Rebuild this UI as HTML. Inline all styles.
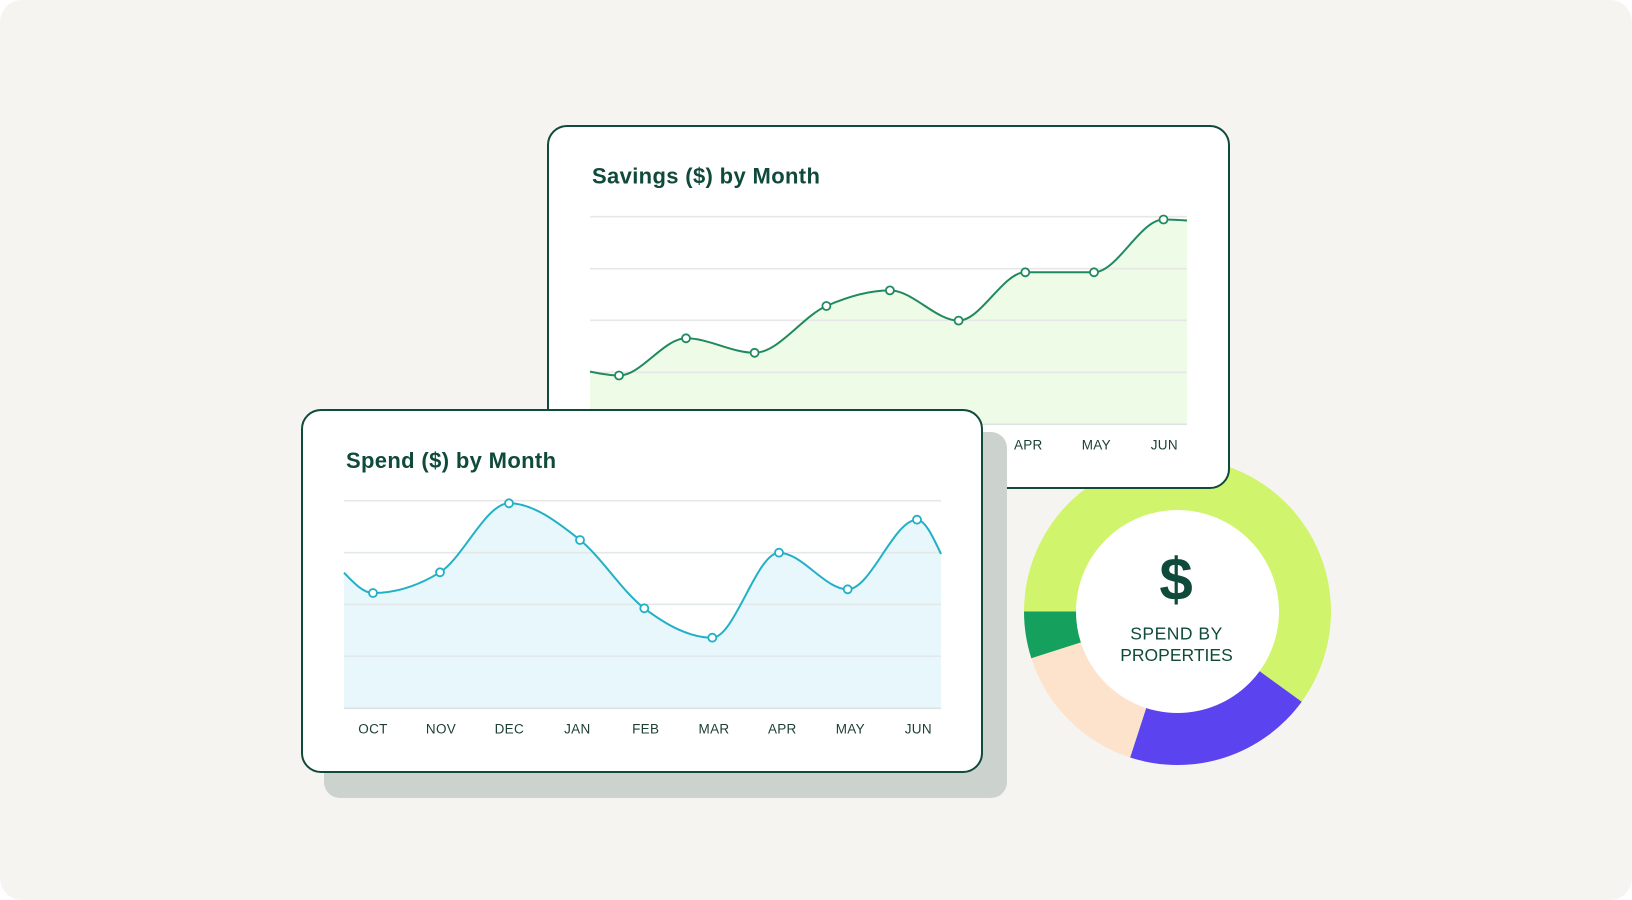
<!DOCTYPE html>
<html>
<head>
<meta charset="utf-8">
<style>
  html,body{margin:0;padding:0;background:#ffffff;}
  body{width:1632px;height:900px;overflow:hidden;}
  svg{display:block;}
  .title{font-family:"Liberation Sans",sans-serif;font-weight:bold;font-size:22px;fill:#0f4a3a;letter-spacing:0.35px;}
  .lbl{font-family:"Liberation Sans",sans-serif;font-size:13.5px;fill:#1d4035;text-anchor:middle;letter-spacing:0.3px;}
  .grid{stroke:#e6e7e6;stroke-width:1.6;}
  .base{stroke:#dde3e1;stroke-width:1.6;}
</style>
</head>
<body>
<svg width="1632" height="900" viewBox="0 0 1632 900" xmlns="http://www.w3.org/2000/svg">
  <!-- background -->
  <rect x="0" y="0" width="1632" height="900" rx="22" ry="22" fill="#f5f4f0"/>

  <!-- donut -->
  <g>
    <path d="M 1024 611.5 A 153.5 153.5 0 1 1 1301.7 701.7 L 1259.2 670.9 A 101 101 0 1 0 1076.5 611.5 Z" fill="#d0f46b"/>
    <path d="M 1301.7 701.7 A 153.5 153.5 0 0 1 1130.1 757.5 L 1146.3 707.6 A 101 101 0 0 0 1259.2 670.9 Z" fill="#5b44ef"/>
    <path d="M 1130.1 757.5 A 153.5 153.5 0 0 1 1031.3 658.2 L 1081.3 642.2 A 101 101 0 0 0 1146.3 707.6 Z" fill="#fde3cb"/>
    <path d="M 1031.3 658.2 A 153.5 153.5 0 0 1 1024 611.5 L 1076.5 611.5 A 101 101 0 0 0 1081.3 642.2 Z" fill="#15a05e"/>
    <circle cx="1177.5" cy="611.5" r="101.5" fill="#ffffff"/>
    <text x="1176" y="600" text-anchor="middle" font-family="Liberation Sans, sans-serif" font-weight="bold" font-size="60" fill="#0f4a3a">$</text>
    <text x="1176.5" y="639.3" text-anchor="middle" font-family="Liberation Sans, sans-serif" font-size="17.5" fill="#0f4a3a" letter-spacing="0.5">SPEND BY</text>
    <text x="1176.5" y="661" text-anchor="middle" font-family="Liberation Sans, sans-serif" font-size="17.5" fill="#0f4a3a">PROPERTIES</text>
  </g>

  <!-- savings card -->
  <rect x="548" y="126" width="681" height="362" rx="19" ry="19" fill="#ffffff" stroke="#0f4a3b" stroke-width="2"/>
  <text class="title" x="592" y="183.5">Savings ($) by Month</text>
  <!-- savings area -->
  <path d="M 590 371.6 C 599.67 373.55 609.33 375.5 619 375.5 C 641.33 375.5 663.67 338.3 686 338.3 C 708.87 338.3 731.73 352.8 754.6 352.8 C 778.53 352.8 802.47 316.43 826.4 306 C 847.57 296.77 868.73 290.4 889.9 290.4 C 912.8 290.4 935.7 320.6 958.6 320.6 C 980.83 320.6 1003.07 272.3 1025.3 272.3 L 1094 272.3 C 1117.17 272.3 1140.33 219.5 1163.5 219.5 C 1171.33 219.5 1179.17 220 1187 220.5 L 1187 424.3 L 590 424.3 Z" fill="#eefbe7"/>
  <line class="grid" x1="590" y1="216.7" x2="1187" y2="216.7"/>
  <line class="grid" x1="590" y1="268.7" x2="1187" y2="268.7"/>
  <line class="grid" x1="590" y1="320.3" x2="1187" y2="320.3"/>
  <line class="grid" x1="590" y1="372.3" x2="1187" y2="372.3"/>
  <line class="base" x1="590" y1="424.3" x2="1187" y2="424.3"/>
  <path d="M 590 371.6 C 599.67 373.55 609.33 375.5 619 375.5 C 641.33 375.5 663.67 338.3 686 338.3 C 708.87 338.3 731.73 352.8 754.6 352.8 C 778.53 352.8 802.47 316.43 826.4 306 C 847.57 296.77 868.73 290.4 889.9 290.4 C 912.8 290.4 935.7 320.6 958.6 320.6 C 980.83 320.6 1003.07 272.3 1025.3 272.3 L 1094 272.3 C 1117.17 272.3 1140.33 219.5 1163.5 219.5 C 1171.33 219.5 1179.17 220 1187 220.5" fill="none" stroke="#208a5e" stroke-width="2"/>
  <g fill="#ffffff" stroke="#208a5e" stroke-width="1.8">
    <circle cx="619" cy="375.5" r="4"/>
    <circle cx="686" cy="338.3" r="4"/>
    <circle cx="754.6" cy="352.8" r="4"/>
    <circle cx="826.4" cy="306" r="4"/>
    <circle cx="889.9" cy="290.4" r="4"/>
    <circle cx="958.6" cy="320.6" r="4"/>
    <circle cx="1025.3" cy="272.3" r="4"/>
    <circle cx="1094" cy="272.3" r="4"/>
    <circle cx="1163.5" cy="219.5" r="4"/>
  </g>
  <text class="lbl" x="619" y="449.3">OCT</text>
  <text class="lbl" x="687" y="449.3">NOV</text>
  <text class="lbl" x="755.3" y="449.3">DEC</text>
  <text class="lbl" x="823.3" y="449.3">JAN</text>
  <text class="lbl" x="891.7" y="449.3">FEB</text>
  <text class="lbl" x="960" y="449.3">MAR</text>
  <text class="lbl" x="1028.3" y="449.3">APR</text>
  <text class="lbl" x="1096.3" y="449.3">MAY</text>
  <text class="lbl" x="1164.3" y="449.3">JUN</text>

  <!-- shadow of spend card -->
  <rect x="324" y="432" width="683" height="366" rx="16" ry="16" fill="#ccd3cf"/>

  <!-- spend card -->
  <rect x="302" y="410" width="680" height="362" rx="19" ry="19" fill="#ffffff" stroke="#0f4a3b" stroke-width="2"/>
  <text class="title" x="346" y="468">Spend ($) by Month</text>
  <path d="M 344 572.7 C 353.67 582.85 363.33 593 373 593 C 395.33 593 417.67 586.1 440 572.3 C 463 558.08 486 503.3 509 503.3 C 532.67 503.3 556.33 520.99 580 540 C 601.43 557.21 622.87 592.1 644.3 608.3 C 666.97 625.44 689.63 637.7 712.3 637.7 C 734.53 637.7 756.77 552.7 779 552.7 C 801.9 552.7 824.8 589.3 847.7 589.3 C 870.8 589.3 893.9 519.7 917 519.7 C 925 519.7 933 536.9 941 554 L 941 708.3 L 344 708.3 Z" fill="#e7f7fb"/>
  <line class="grid" x1="344" y1="500.7" x2="941" y2="500.7"/>
  <line class="grid" x1="344" y1="552.7" x2="941" y2="552.7" style="stroke:#e3e8e9"/>
  <line class="grid" x1="344" y1="604.3" x2="941" y2="604.3" style="stroke:#e3e8e9"/>
  <line class="grid" x1="344" y1="656.3" x2="941" y2="656.3" style="stroke:#e0eaec"/>
  <line class="base" x1="344" y1="708.3" x2="941" y2="708.3"/>
  <path d="M 344 572.7 C 353.67 582.85 363.33 593 373 593 C 395.33 593 417.67 586.1 440 572.3 C 463 558.08 486 503.3 509 503.3 C 532.67 503.3 556.33 520.99 580 540 C 601.43 557.21 622.87 592.1 644.3 608.3 C 666.97 625.44 689.63 637.7 712.3 637.7 C 734.53 637.7 756.77 552.7 779 552.7 C 801.9 552.7 824.8 589.3 847.7 589.3 C 870.8 589.3 893.9 519.7 917 519.7 C 925 519.7 933 536.9 941 554" fill="none" stroke="#22b0c7" stroke-width="2"/>
  <g fill="#ffffff" stroke="#22b0c7" stroke-width="1.8">
    <circle cx="373" cy="593" r="4"/>
    <circle cx="440" cy="572.3" r="4"/>
    <circle cx="509" cy="503.3" r="4"/>
    <circle cx="580" cy="540" r="4"/>
    <circle cx="644.3" cy="608.3" r="4"/>
    <circle cx="712.3" cy="637.7" r="4"/>
    <circle cx="779" cy="552.7" r="4"/>
    <circle cx="847.7" cy="589.3" r="4"/>
    <circle cx="917" cy="519.7" r="4"/>
  </g>
  <text class="lbl" x="373" y="733.3">OCT</text>
  <text class="lbl" x="441" y="733.3">NOV</text>
  <text class="lbl" x="509.3" y="733.3">DEC</text>
  <text class="lbl" x="577.3" y="733.3">JAN</text>
  <text class="lbl" x="645.7" y="733.3">FEB</text>
  <text class="lbl" x="714" y="733.3">MAR</text>
  <text class="lbl" x="782.3" y="733.3">APR</text>
  <text class="lbl" x="850.3" y="733.3">MAY</text>
  <text class="lbl" x="918.3" y="733.3">JUN</text>
</svg>
</body>
</html>
